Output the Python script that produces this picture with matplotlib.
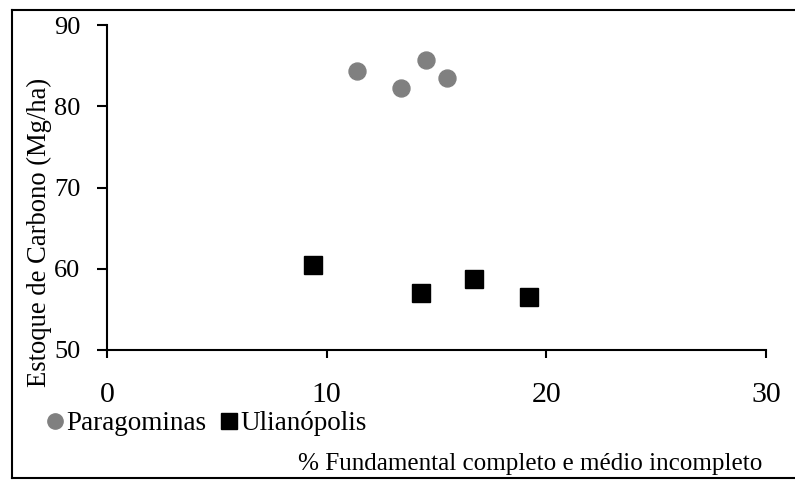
import matplotlib
matplotlib.use("Agg")
import matplotlib.pyplot as plt
from matplotlib.lines import Line2D

# Paragominas (circles) and Ulianópolis (squares)
paragominas_x = [11.4, 13.4, 14.5, 15.5]
paragominas_y = [84.4, 82.3, 85.7, 83.5]
ulianopolis_x = [9.4, 14.3, 16.7, 19.2]
ulianopolis_y = [60.5, 57.0, 58.7, 56.5]

x_ticks = [0, 10, 20, 30]
y_ticks = [50, 60, 70, 80, 90]

plt.rcParams['font.family'] = ['Liberation Serif', 'DejaVu Serif']

W, H = 795, 480
fig = plt.figure(figsize=(W / 100, H / 100), dpi=100)
ax = fig.add_axes([107 / W, 1 - 350 / H, (766 - 107) / W, (350 - 25) / H])

ax.plot(paragominas_x, paragominas_y, linestyle='none', marker='o',
        markersize=12.2, color='#808080', clip_on=False)
ax.plot(ulianopolis_x, ulianopolis_y, linestyle='none', marker='s',
        markersize=12.5, color='black', clip_on=False)

ax.set_xlim(0, 30)
ax.set_ylim(50, 90)
ax.set_xticks(x_ticks)
ax.set_yticks(y_ticks)

for side in ('top', 'right'):
    ax.spines[side].set_visible(False)
for side in ('left', 'bottom'):
    ax.spines[side].set_linewidth(1.5)
    ax.spines[side].set_color('black')

ax.tick_params(axis='y', direction='out', length=7, width=1.5,
               labelsize=19, pad=12)
ax.tick_params(axis='x', direction='out', length=6, width=1.5,
               labelsize=21.5, pad=17)

fig.text(39 / W, 1 - 232 / H, 'Estoque de Carbono (Mg/ha)', rotation=90,
         ha='center', va='center', fontsize=19.2)
fig.text(762 / W, 1 - 464 / H, '% Fundamental completo e médio incompleto',
         ha='right', va='center', fontsize=18.1)

handles = [
    Line2D([], [], linestyle='none', marker='o', markersize=11,
           color='#808080', label='Paragominas'),
    Line2D([], [], linestyle='none', marker='s', markersize=12,
           color='black', label='Ulianópolis'),
]
fig.legend(handles=handles, loc='center left',
           bbox_to_anchor=(47 / W, 1 - 424 / H), ncol=2, frameon=False,
           fontsize=19.5, handlelength=0.6, handletextpad=0.1,
           columnspacing=0.55, borderaxespad=0, borderpad=0)

# outer frame around the whole figure
frame_kw = dict(color='black', linewidth=1.5, transform=fig.transFigure,
                clip_on=False)
fig.add_artist(Line2D([12 / W, 12 / W], [1 - 10 / H, 1 - 478 / H], **frame_kw))
fig.add_artist(Line2D([12 / W, 1.0], [1 - 10 / H, 1 - 10 / H], **frame_kw))
fig.add_artist(Line2D([12 / W, 1.0], [1 - 478 / H, 1 - 478 / H], **frame_kw))

fig.savefig('out.png', dpi=100)
